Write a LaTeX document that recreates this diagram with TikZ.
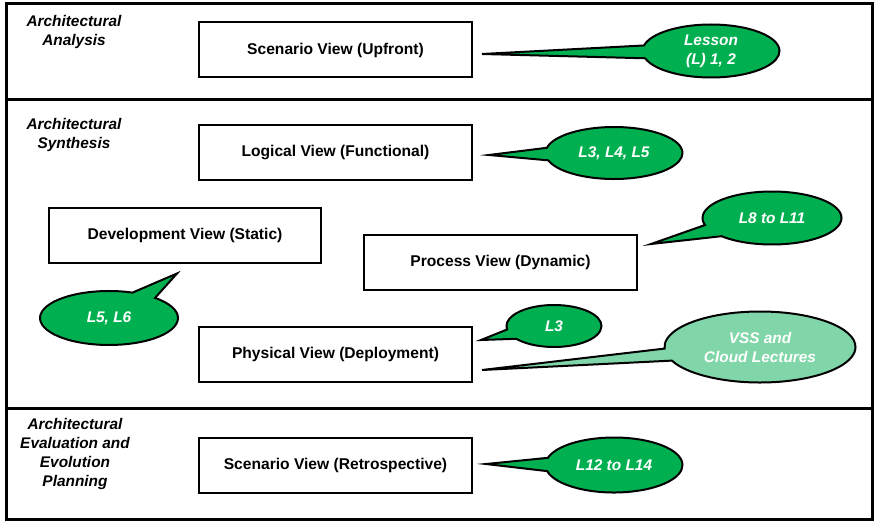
\documentclass[tikz,border=0pt]{standalone}
\usepackage{fontspec}
\setmainfont{Liberation Sans}
\usetikzlibrary{positioning, calc, shapes.callouts}
\definecolor{lessongreen}{RGB}{0,176,80}
\definecolor{lightgreen}{RGB}{128,214,168}

\begin{document}
\begin{tikzpicture}[x=1pt, y=-1pt,
    view/.style={draw, line width=2pt, minimum width=273, minimum height=55,
        font=\fontsize{15.6}{19}\selectfont\bfseries},
    section/.style={align=center, font=\fontsize{15.4}{19}\selectfont\bfseries\itshape},
    bubble/.style={ellipse callout, draw, line width=2pt, fill=lessongreen,
        text=white, align=center, inner sep=0pt, callout pointer arc=28,
        font=\fontsize{15.4}{19}\selectfont\bfseries\itshape}]
    \useasboundingbox (0,0) rectangle (878,527);

    % frame with the three stages
    \draw [line width=3pt] (6,4) rectangle (872,519);
    \draw [line width=3pt] (6,99) -- (872,99);
    \draw [line width=3pt] (6,408) -- (872,408);

    \node [section] (analysis) at (74,32) {Architectural\\Analysis};
    \node [section] (synthesis) at (74,135) {Architectural\\Synthesis};
    \node [section] (evaluation) at (75,454.5) {Architectural\\Evaluation and\\Evolution\\Planning};

    % the views
    \node [view] (upfront) at (335.5,50) {Scenario View (Upfront)};
    \node [view] (logical) at (335.5,152.5) {Logical View (Functional)};
    \node [view, minimum width=272] (development) at (185,235) {Development View (Static)};
    \node [view] (process) at (500.5,262.5) {Process View (Dynamic)};
    \node [view] (physical) at (335.5,354.5) {Physical View (Deployment)};
    \node [view] (retro) at (335.5,465.5) {Scenario View (Retrospective)};

    % lessons
    \node [bubble, minimum width=137, minimum height=53,
    callout absolute pointer={($(upfront.east)+(9,4)$)}
    ] (lesson12) at (711,51) {Lesson\\(L) 1, 2};

    \node [bubble, minimum width=137, minimum height=52,
    callout absolute pointer={($(logical.east)+(16,2.5)$)}
    ] (lesson345) at (614,153) {L3, L4, L5};

    \node [bubble, minimum width=139, minimum height=53,
    callout absolute pointer={($(process.east)+(13,-18.5)$)}
    ] (lesson811) at (772,218) {L8 to L11};

    \node [bubble, minimum width=138, minimum height=54, callout pointer arc=22,
    callout absolute pointer={($(development.south)+(-8,10)$)}
    ] (lesson56) at (109,318) {L5, L6};

    \node [bubble, minimum width=95, minimum height=42,
    callout absolute pointer={($(physical.east)+(8,-14.5)$)}
    ] (lesson3) at (554,326) {L3};

    \node [bubble, fill=lightgreen, minimum width=191, minimum height=71,
    callout pointer arc=20,
    callout absolute pointer={($(physical.east)+(9,15.5)$)}
    ] (vss) at (760,347) {VSS and\\Cloud Lectures};

    \node [bubble, minimum width=137, minimum height=55,
    callout absolute pointer={($(retro.east)+(13,-1.5)$)}
    ] (lesson1214) at (614,465) {L12 to L14};
\end{tikzpicture}
\end{document}
